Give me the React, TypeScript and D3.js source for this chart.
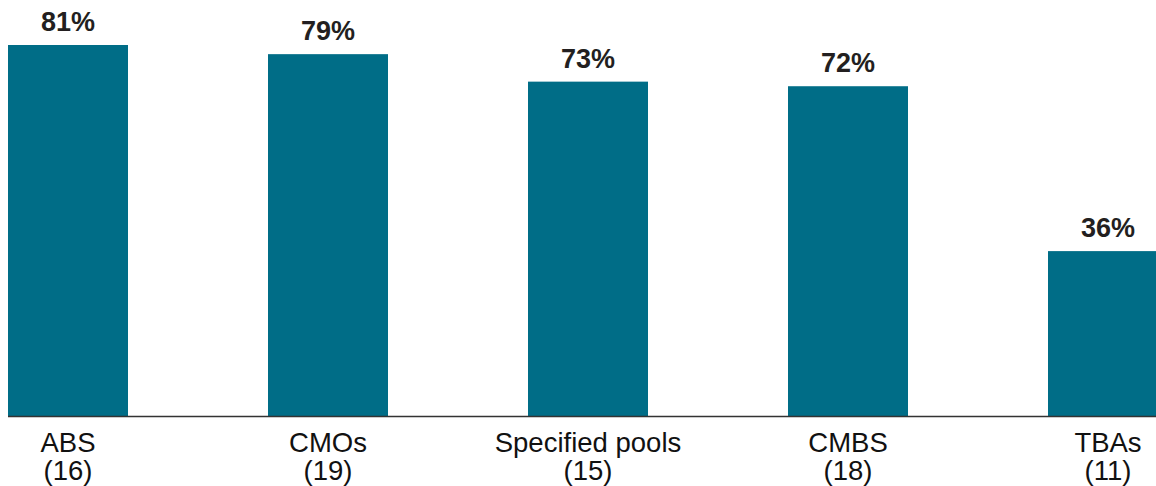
import React from "react";
import * as d3 from "d3";

const categories = ["ABS", "CMOs", "Specified pools", "CMBS", "TBAs"];
const counts = ["(16)", "(19)", "(15)", "(18)", "(11)"];
const values = [81, 79, 73, 72, 36];

const W = 1156;
const H = 486;

export default function App() {
  const x = d3
    .scaleBand<string>()
    .domain(categories)
    .range([8, 1168])
    .paddingInner(140 / 260)
    .paddingOuter(0);
  const bw = x.bandwidth();
  const y = d3.scaleLinear().domain([0, 81]).range([416, 45]);
  const font = "'Liberation Sans', Arial, sans-serif";
  return (
    <svg width={W} height={H} style={{ position: "absolute", left: 0, top: 0 }}>
      {categories.map((c, i) => {
        const x0 = x(c) as number;
        return (
          <g key={c}>
            <rect x={x0} y={y(values[i])} width={bw} height={y(0) - y(values[i])} fill="#006d87" />
            <text x={x0 + bw / 2} y={y(values[i]) - 14} textAnchor="middle" fontFamily={font} fontWeight="bold" fontSize={27} fill="#231f20">
              {values[i]}%
            </text>
            <text x={x0 + bw / 2} y={452} textAnchor="middle" fontFamily={font} fontSize={27.5} fill="#111">
              {c}
            </text>
            <text x={x0 + bw / 2} y={480} textAnchor="middle" fontFamily={font} fontSize={27.5} fill="#111">
              {counts[i]}
            </text>
          </g>
        );
      })}
      <line x1={8} x2={W} y1={416.5} y2={416.5} stroke="#333" strokeWidth={1.5} />
    </svg>
  );
}
